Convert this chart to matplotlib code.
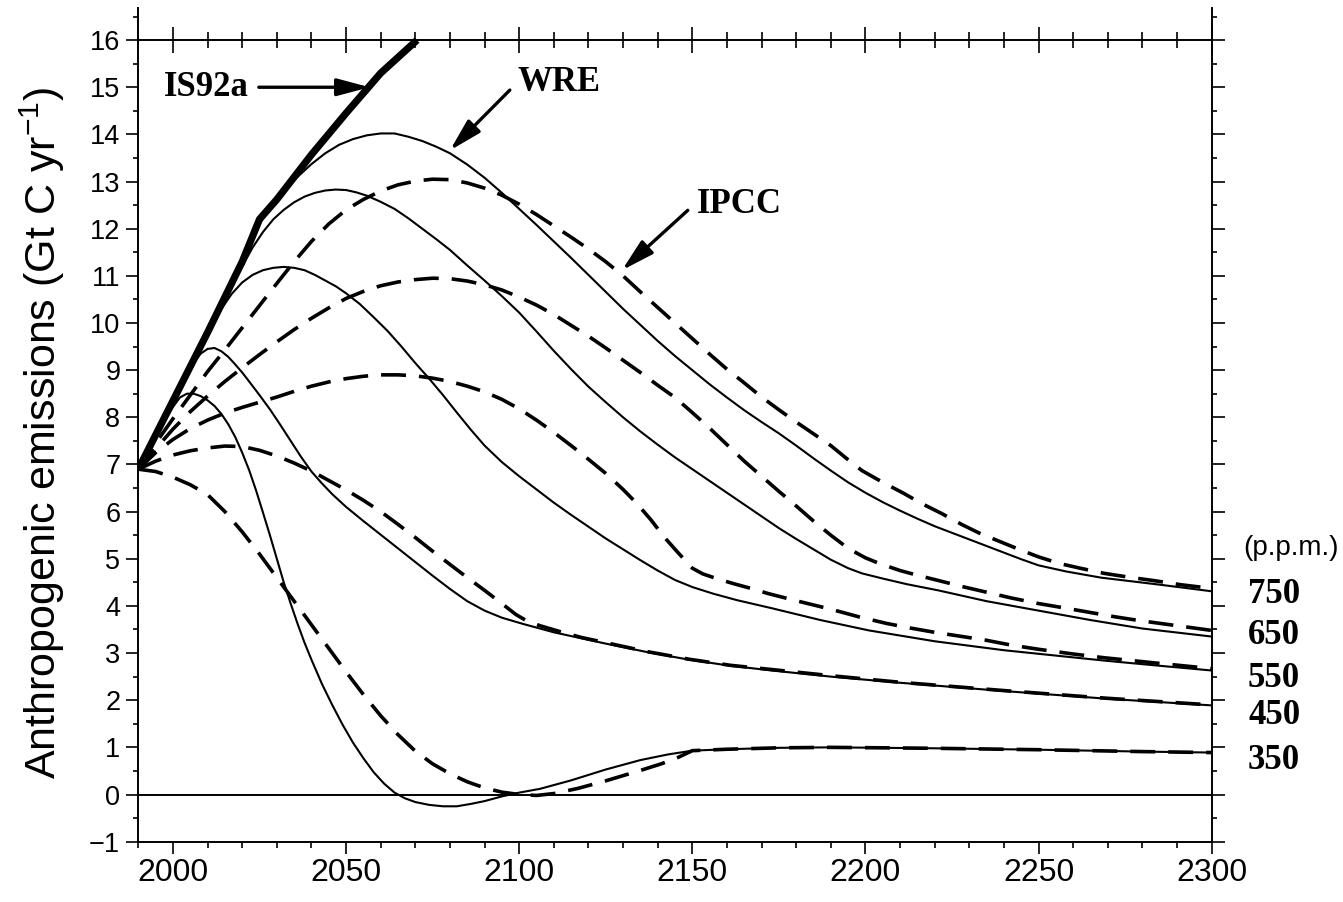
import matplotlib
matplotlib.use("Agg")
import matplotlib.pyplot as plt
from matplotlib.ticker import MultipleLocator

plt.rcParams['font.family'] = ['Liberation Sans', 'DejaVu Sans']
plt.rcParams['mathtext.fontset'] = 'custom'
plt.rcParams['mathtext.rm'] = 'Liberation Sans'
plt.rcParams['mathtext.it'] = 'Liberation Sans:italic'

# IS92a business-as-usual
is92a_years = [1990, 2000, 2010, 2020, 2025, 2030, 2040, 2050, 2060, 2070.5]
is92a_vals = [6.9, 8.35, 9.8, 11.3, 12.2, 12.62, 13.57, 14.45, 15.3, 16.0]

# WRE pathways (solid)
wre750_years = [1990, 2000, 2010, 2020, 2025, 2028, 2032, 2036, 2040, 2044, 2048, 2052, 2056, 2060,
                2064, 2068, 2072, 2076, 2080, 2085, 2090, 2095, 2100, 2105, 2110, 2115, 2120, 2125,
                2130, 2135, 2140, 2145, 2150, 2155, 2160, 2165, 2170, 2175, 2180, 2185, 2190, 2195,
                2200, 2205, 2210, 2215, 2220, 2225, 2230, 2235, 2240, 2245, 2250, 2258, 2268, 2285, 2300]
wre750_vals = [6.9, 8.3, 9.75, 11.25, 12.1, 12.45, 12.8, 13.1, 13.37, 13.6, 13.78, 13.9, 13.98, 14.02,
               14.02, 13.95, 13.86, 13.74, 13.6, 13.36, 13.08, 12.76, 12.42, 12.08, 11.73, 11.38, 11.02, 10.66,
               10.3, 9.96, 9.62, 9.3, 9.0, 8.7, 8.42, 8.15, 7.9, 7.66, 7.4, 7.13, 6.87, 6.62,
               6.4, 6.2, 6.02, 5.85, 5.69, 5.55, 5.41, 5.27, 5.13, 4.99, 4.86, 4.73, 4.6, 4.45, 4.31]

wre650_years = [1990, 2000, 2010, 2020, 2023, 2026, 2029, 2032, 2035, 2038, 2041, 2044, 2047, 2050,
                2053, 2056, 2060, 2064, 2068, 2072, 2076, 2080, 2085, 2090, 2095, 2100, 2105, 2110,
                2115, 2120, 2125, 2130, 2135, 2140, 2145, 2150, 2155, 2160, 2165, 2170, 2175, 2180,
                2185, 2190, 2195, 2199, 2205, 2212, 2221, 2235, 2250, 2265, 2280, 2300]
wre650_vals = [6.9, 8.3, 9.75, 11.2, 11.6, 11.93, 12.2, 12.4, 12.56, 12.68, 12.76, 12.81, 12.83, 12.82,
               12.77, 12.7, 12.57, 12.42, 12.22, 12.0, 11.78, 11.55, 11.22, 10.9, 10.57, 10.22, 9.82, 9.41,
               9.02, 8.65, 8.32, 8.0, 7.7, 7.42, 7.15, 6.9, 6.65, 6.4, 6.15, 5.9, 5.65, 5.42,
               5.2, 4.98, 4.8, 4.69, 4.58, 4.46, 4.33, 4.1, 3.9, 3.7, 3.52, 3.35]

wre550_years = [1990, 2000, 2010, 2014, 2017, 2020, 2023, 2026, 2029, 2032, 2035, 2038, 2041, 2044,
                2047, 2050, 2054, 2058, 2062, 2066, 2070, 2074, 2078, 2082, 2086, 2090, 2095, 2100,
                2105, 2110, 2115, 2120, 2125, 2130, 2135, 2140, 2145, 2150, 2156, 2163, 2173, 2187,
                2201, 2220, 2240, 2269, 2285, 2300]
wre550_vals = [6.9, 8.3, 9.75, 10.3, 10.62, 10.86, 11.02, 11.12, 11.17, 11.19, 11.17, 11.12, 11.02, 10.9,
               10.78, 10.63, 10.4, 10.12, 9.83, 9.5, 9.15, 8.82, 8.47, 8.1, 7.74, 7.4, 7.05, 6.75,
               6.47, 6.19, 5.93, 5.68, 5.43, 5.2, 4.97, 4.75, 4.55, 4.4, 4.26, 4.12, 3.95, 3.7,
               3.48, 3.25, 3.06, 2.84, 2.73, 2.63]

wre450_years = [1990, 2000, 2004, 2006, 2008, 2010, 2012, 2014, 2016, 2018, 2020, 2022, 2025, 2028,
                2031, 2034, 2037, 2040, 2043, 2046, 2050, 2055, 2060, 2065, 2070, 2075, 2080, 2085,
                2090, 2095, 2101, 2110, 2125, 2137, 2149, 2161, 2173, 2190, 2210, 2239, 2270, 2300]
wre450_vals = [6.9, 8.3, 8.88, 9.15, 9.35, 9.45, 9.47, 9.4, 9.28, 9.12, 8.95, 8.76, 8.47, 8.17,
               7.84, 7.5, 7.16, 6.85, 6.6, 6.37, 6.1, 5.8, 5.51, 5.22, 4.93, 4.64, 4.36, 4.1,
               3.9, 3.75, 3.62, 3.44, 3.2, 3.02, 2.86, 2.73, 2.63, 2.5, 2.37, 2.2, 2.03, 1.89]

wre350_years = [1990, 1995, 2000, 2002, 2004, 2006, 2008, 2010, 2012, 2014, 2016, 2018, 2020, 2022,
                2024, 2026, 2028, 2030, 2032, 2034, 2036, 2038, 2040, 2043, 2046, 2049, 2052, 2055,
                2058, 2061, 2064, 2067, 2070, 2074, 2078, 2082, 2086, 2090, 2095, 2100, 2106, 2115,
                2125, 2135, 2143, 2150, 2160, 2175, 2190, 2220, 2250, 2280, 2300]
wre350_vals = [6.9, 7.6, 8.22, 8.42, 8.5, 8.5, 8.45, 8.36, 8.24, 8.07, 7.85, 7.58, 7.25, 6.88,
               6.45, 5.98, 5.5, 5.0, 4.5, 4.05, 3.62, 3.22, 2.86, 2.35, 1.9, 1.48, 1.1, 0.77,
               0.47, 0.23, 0.04, -0.08, -0.16, -0.22, -0.25, -0.25, -0.2, -0.14, -0.04, 0.04, 0.12, 0.3,
               0.53, 0.73, 0.85, 0.93, 0.96, 0.99, 1.0, 0.98, 0.95, 0.91, 0.89]

# IPCC pathways (dashed)
ipcc750_years = [1990, 1995, 2000, 2005, 2010, 2015, 2020, 2025, 2030, 2035, 2040, 2045, 2050, 2055,
                 2060, 2065, 2070, 2075, 2080, 2085, 2090, 2095, 2100, 2105, 2110, 2115, 2120, 2125,
                 2130, 2135, 2140, 2145, 2150, 2155, 2160, 2165, 2170, 2175, 2180, 2185, 2190, 2195,
                 2199, 2205, 2211, 2216, 2222, 2228, 2233, 2239, 2245, 2250, 2256, 2262, 2269, 2276,
                 2283, 2291, 2300]
ipcc750_vals = [6.9, 7.45, 7.97, 8.47, 8.97, 9.43, 9.9, 10.37, 10.84, 11.3, 11.73, 12.1, 12.4, 12.62,
                12.8, 12.93, 13.01, 13.05, 13.04, 12.97, 12.86, 12.71, 12.52, 12.3, 12.06, 11.82, 11.57, 11.3,
                11.0, 10.66, 10.33, 10.0, 9.67, 9.34, 9.02, 8.73, 8.43, 8.16, 7.9, 7.65, 7.4, 7.1,
                6.87, 6.62, 6.39, 6.18, 5.96, 5.72, 5.54, 5.36, 5.18, 5.04, 4.9, 4.8, 4.69, 4.61,
                4.54, 4.45, 4.37]

ipcc650_years = [1990, 1995, 2000, 2005, 2010, 2015, 2020, 2025, 2030, 2035, 2040, 2045, 2050, 2055,
                 2060, 2065, 2070, 2075, 2080, 2085, 2090, 2095, 2100, 2105, 2110, 2115, 2120, 2125,
                 2130, 2135, 2140, 2145, 2150, 2155, 2160, 2165, 2170, 2175, 2180, 2185, 2190, 2195,
                 2200, 2204, 2210, 2215, 2221, 2228, 2235, 2242, 2250, 2258, 2265, 2272, 2279, 2290, 2300]
ipcc650_vals = [6.9, 7.33, 7.75, 8.12, 8.45, 8.76, 9.05, 9.33, 9.6, 9.86, 10.1, 10.32, 10.52, 10.67,
                10.79, 10.87, 10.92, 10.95, 10.94, 10.89, 10.81, 10.7, 10.55, 10.38, 10.18, 9.95, 9.72, 9.47,
                9.21, 8.95, 8.68, 8.42, 8.1, 7.77, 7.42, 7.07, 6.75, 6.43, 6.12, 5.8, 5.5, 5.22,
                5.02, 4.9, 4.75, 4.65, 4.54, 4.41, 4.29, 4.17, 4.05, 3.95, 3.86, 3.77, 3.69, 3.58, 3.48]

ipcc550_years = [1990, 1995, 2000, 2005, 2010, 2015, 2020, 2025, 2030, 2035, 2040, 2045, 2050, 2055,
                 2060, 2065, 2070, 2075, 2080, 2085, 2090, 2095, 2100, 2105, 2110, 2115, 2120, 2125,
                 2130, 2134, 2138, 2142, 2146, 2150, 2153, 2157, 2162, 2167, 2172, 2180, 2190, 2198,
                 2206, 2213, 2220, 2228, 2235, 2242, 2250, 2260, 2269, 2285, 2300]
ipcc550_vals = [6.9, 7.25, 7.53, 7.76, 7.94, 8.09, 8.21, 8.32, 8.43, 8.55, 8.66, 8.75, 8.82, 8.87,
                8.9, 8.9, 8.88, 8.83, 8.76, 8.66, 8.54, 8.38, 8.18, 7.94, 7.68, 7.4, 7.11, 6.81,
                6.47, 6.17, 5.83, 5.45, 5.12, 4.8, 4.68, 4.58, 4.47, 4.37, 4.26, 4.11, 3.93, 3.77,
                3.63, 3.53, 3.44, 3.35, 3.27, 3.17, 3.08, 2.98, 2.9, 2.78, 2.67]

ipcc450_years = [1990, 1995, 2000, 2005, 2010, 2015, 2020, 2025, 2030, 2035, 2040, 2045, 2050, 2055,
                 2060, 2065, 2070, 2075, 2080, 2085, 2090, 2095, 2099, 2102, 2106, 2112, 2118, 2125,
                 2137, 2149, 2161, 2173, 2190, 2210, 2239, 2270, 2300]
ipcc450_vals = [6.9, 7.07, 7.2, 7.29, 7.35, 7.39, 7.38, 7.3, 7.18, 7.03, 6.86, 6.66, 6.46, 6.24,
                6.0, 5.73, 5.45, 5.16, 4.88, 4.6, 4.33, 4.05, 3.82, 3.69, 3.58, 3.45, 3.33, 3.22,
                3.03, 2.87, 2.74, 2.65, 2.52, 2.38, 2.21, 2.04, 1.9]

ipcc350_years = [1990, 1995, 2000, 2005, 2010, 2015, 2020, 2025, 2030, 2035, 2040, 2045, 2050, 2055,
                 2060, 2065, 2070, 2075, 2080, 2085, 2090, 2095, 2100, 2105, 2110, 2117, 2125, 2135,
                 2141, 2146, 2150, 2160, 2175, 2190, 2220, 2250, 2280, 2300]
ipcc350_vals = [6.9, 6.85, 6.73, 6.57, 6.36, 6.0, 5.57, 5.1, 4.6, 4.1, 3.6, 3.1, 2.6, 2.12,
                1.67, 1.27, 0.92, 0.65, 0.44, 0.27, 0.14, 0.05, 0.0, -0.02, 0.02, 0.13, 0.29, 0.51,
                0.65, 0.79, 0.93, 0.96, 0.99, 1.0, 0.98, 0.95, 0.91, 0.89]

ppm_labels = ['750', '650', '550', '450', '350']
ppm_label_y = [4.24, 3.37, 2.46, 1.68, 0.72]

fig = plt.figure(figsize=(13.43, 9.02), dpi=100)
ax = fig.add_axes([0.103, 0.0669, 0.7992, 0.9242])

solid = dict(color='k', lw=1.5, solid_joinstyle='round')
dashed = dict(color='k', lw=2.6, linestyle=(0, (6.9, 3.6)))

for yrs, vals in [(ipcc750_years, ipcc750_vals), (ipcc650_years, ipcc650_vals),
                  (ipcc550_years, ipcc550_vals), (ipcc450_years, ipcc450_vals),
                  (ipcc350_years, ipcc350_vals)]:
    ax.plot(yrs, vals, **dashed)

for yrs, vals in [(wre750_years, wre750_vals), (wre650_years, wre650_vals),
                  (wre550_years, wre550_vals), (wre450_years, wre450_vals),
                  (wre350_years, wre350_vals)]:
    ax.plot(yrs, vals, **solid)

ax.plot(is92a_years, is92a_vals, color='k', lw=5.2, solid_capstyle='butt')

ax.axhline(0, color='k', lw=1.4)

ax.set_xlim(1990, 2300)
ax.set_ylim(-1, 16.68)

ax.spines['top'].set_visible(False)
for s in ['left', 'right', 'bottom']:
    ax.spines[s].set_linewidth(1.4)

ax.set_xticks(range(2000, 2301, 50))
ax.xaxis.set_minor_locator(MultipleLocator(10))
ax.set_yticks(range(-1, 17))
ax.yaxis.set_minor_locator(MultipleLocator(0.5))
ax.tick_params(axis='x', which='major', direction='out', length=8.6, width=1.2,
               labelsize=23, pad=3)
ax.tick_params(axis='x', which='minor', direction='out', length=4.3, width=1.2)
ax.tick_params(axis='y', which='major', direction='out', length=9, width=1.2,
               labelsize=19.5, pad=4, right=True)
ax.tick_params(axis='y', which='minor', direction='out', length=3.6, width=1.2, right=True)

# axis line at 16 with crossing ticks
top = ax.secondary_xaxis((16 + 1) / 17.68)
top.set_xticks(range(2000, 2301, 50))
top.xaxis.set_minor_locator(MultipleLocator(10))
top.tick_params(which='major', direction='inout', length=19, width=1.2, labeltop=False)
top.tick_params(which='minor', direction='inout', length=11, width=1.2)
top.spines['top'].set_linewidth(1.4)

ax.set_ylabel('Anthropogenic emissions (Gt C yr$^{-1}$)', fontsize=31)
ax.yaxis.set_label_coords(-0.066, 0.49)

serif_bold = dict(family='Liberation Serif', fontweight='bold', fontsize=25)
arrow = dict(arrowstyle='-|>,head_length=0.9,head_width=0.24', lw=2.4, color='k',
             shrinkA=0, shrinkB=0, mutation_scale=22)

ax.text(1997.5, 15.0, 'IS92a', va='center', ha='left', **serif_bold)
ax.annotate('', xy=(2056.8, 15.0), xytext=(2024.8, 15.0), arrowprops=arrow)

ax.text(2099.5, 15.1, 'WRE', va='center', ha='left', **serif_bold)
ax.annotate('', xy=(2080, 13.66), xytext=(2097.3, 14.94), arrowprops=arrow)

ax.text(2151.3, 12.52, 'IPCC', va='center', ha='left', **serif_bold)
ax.annotate('', xy=(2129.7, 11.12), xytext=(2148.7, 12.39), arrowprops=arrow)

ax.text(2309.0, 5.22, '(p.p.m.)', va='center', ha='left', fontsize=20, clip_on=False)
for lab, yv in zip(ppm_labels, ppm_label_y):
    ax.text(2310.5, yv, lab, va='center', ha='left', clip_on=False, **serif_bold)

fig.savefig('out.png', dpi=100)
